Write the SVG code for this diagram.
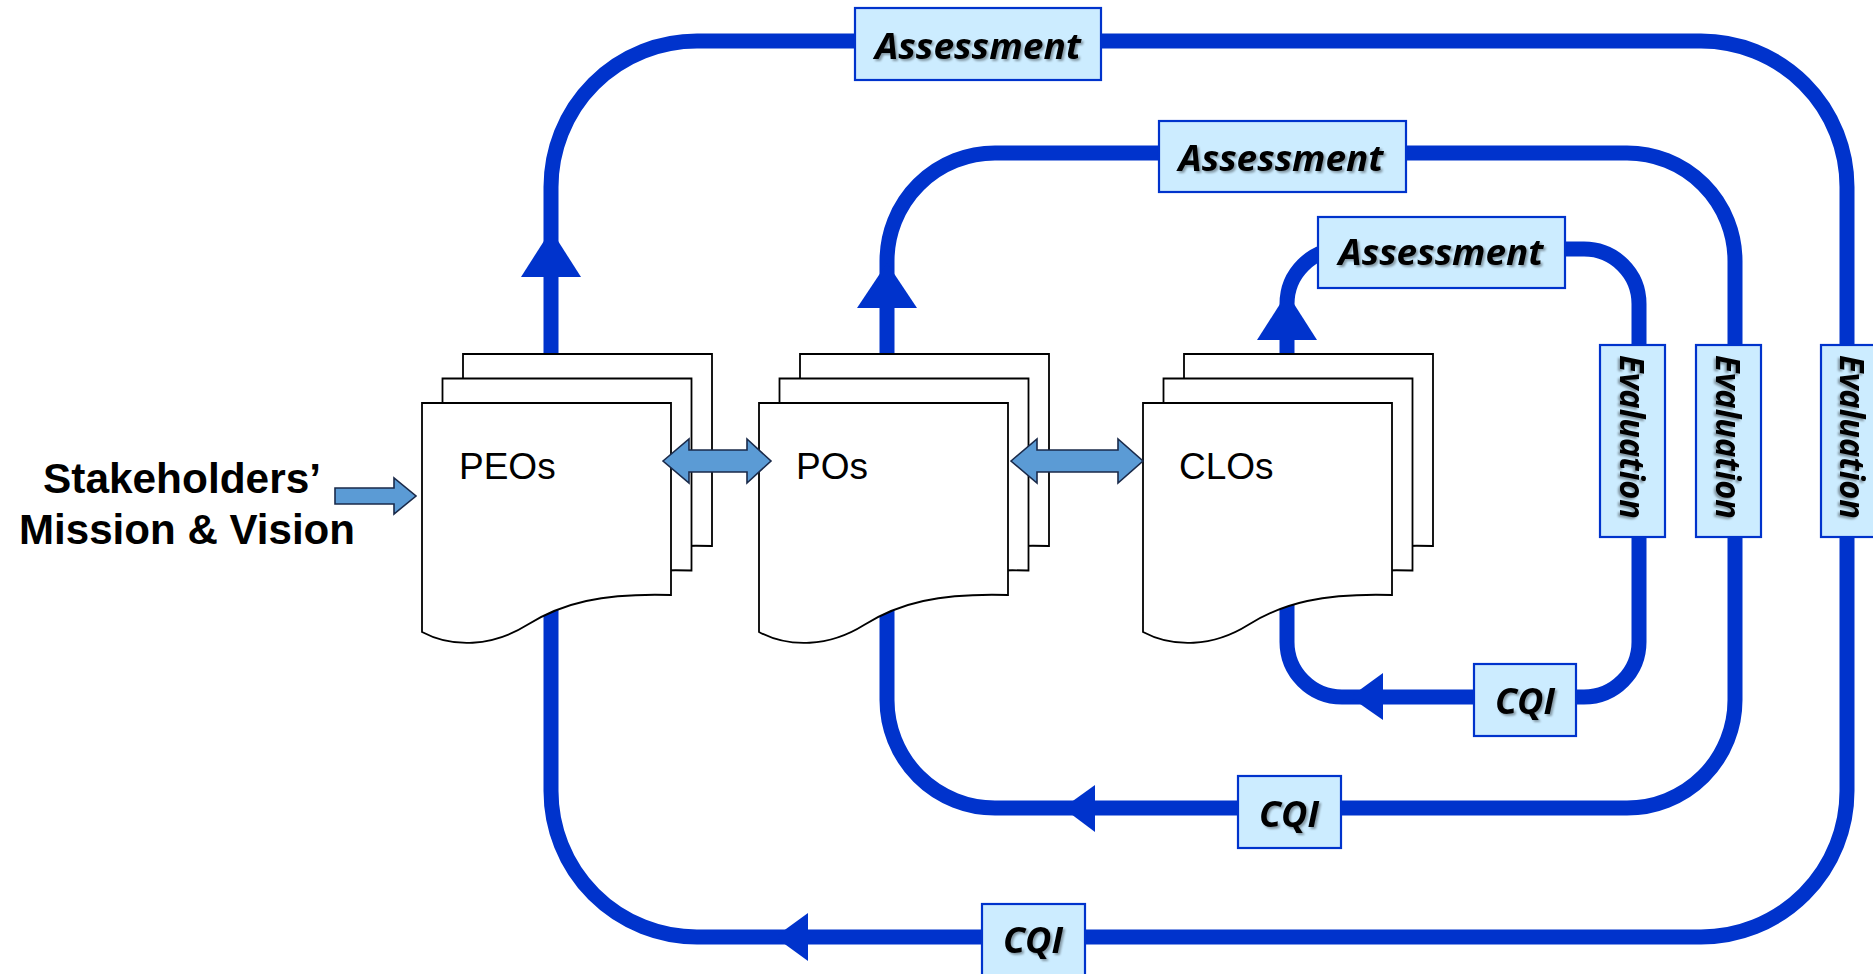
<svg xmlns="http://www.w3.org/2000/svg" width="1873" height="974" viewBox="0 0 1873 974">
<defs>
<style>
.loop{fill:none;stroke:#0033CC;stroke-width:15}
.head{fill:#0033CC;stroke:none}
.doc{fill:#FFFFFF;stroke:#000000;stroke-width:1.8;stroke-linejoin:miter}
.lbl{fill:#CCECFF;stroke:#0033CC;stroke-width:2.2}
.lt{font-family:"Open Sans","Noto Sans",sans-serif;font-weight:bold;font-style:italic;font-size:36px;fill:#000;text-anchor:middle}
.ev{font-size:34px}
.dt{font-family:"Liberation Sans",Arial,sans-serif;font-size:37px;fill:#000}
.st{font-family:"Liberation Sans",Arial,sans-serif;font-weight:bold;font-size:43px;fill:#000;text-anchor:middle}
.ba{fill:#5B9BD5;stroke:#1A2A4A;stroke-width:1.6;stroke-linejoin:miter}
</style>
<filter id="sh" x="-10%" y="-30%" width="130%" height="160%">
<feDropShadow dx="2" dy="2" stdDeviation="1.3" flood-color="#000" flood-opacity="0.35"/>
</filter>
<path id="docshape" d="M0,0 H249 V192 C180,190 140,200 105,222 S30,245 0,229 Z"/>
</defs>
<rect x="0" y="0" width="1873" height="974" fill="#FFFFFF"/>

<g id="connectors">
<rect class="loop" x="551" y="41" width="1296" height="896" rx="146" ry="146"/>
<rect class="loop" x="887" y="153" width="848" height="655" rx="108" ry="108"/>
<rect class="loop" x="1287" y="249" width="352" height="448" rx="55" ry="55"/>
<polygon class="head" points="551,230 581,277 521,277"/>
<polygon class="head" points="887,263 917,308 857,308"/>
<polygon class="head" points="1287,293 1317,340 1257,340"/>
<polygon class="head" points="775,937 808,913 808,961"/>
<polygon class="head" points="1063,808 1095,785 1095,832"/>
<polygon class="head" points="1350,697 1383,673 1383,720"/>
<polygon id="stake-arrow" class="ba" points="335,488 394,488 394,478 416,496 394,514 394,504 335,504"/>
</g>

<g id="stakeholders">
<text class="st" x="182" y="493" textLength="278" lengthAdjust="spacingAndGlyphs">Stakeholders’</text>
<text class="st" x="187" y="544" textLength="336" lengthAdjust="spacingAndGlyphs">Mission &amp; Vision</text>
</g>

<g id="peos">
<use href="#docshape" class="doc" transform="translate(463,354)"/>
<use href="#docshape" class="doc" transform="translate(442.5,378.5)"/>
<use href="#docshape" class="doc" transform="translate(422,403)"/>
<text class="dt" x="459" y="479">PEOs</text>
</g>

<g id="pos">
<use href="#docshape" class="doc" transform="translate(800,354)"/>
<use href="#docshape" class="doc" transform="translate(779.5,378.5)"/>
<use href="#docshape" class="doc" transform="translate(759,403)"/>
<text class="dt" x="796" y="479">POs</text>
</g>

<g id="clos">
<use href="#docshape" class="doc" transform="translate(1184,354)"/>
<use href="#docshape" class="doc" transform="translate(1163.5,378.5)"/>
<use href="#docshape" class="doc" transform="translate(1143,403)"/>
<text class="dt" x="1179" y="479">CLOs</text>
</g>

<g id="peo-po-arrow">
<polygon class="ba" points="663,461 689,439 689,450 747,450 747,439 771,461 747,483 747,472 689,472 689,483"/>
</g>
<g id="po-clo-arrow">
<polygon class="ba" points="1011,461 1037,439 1037,450 1118,450 1118,439 1143,461 1118,483 1118,472 1037,472 1037,483"/>
</g>

<g id="assessment-outer">
<rect class="lbl" x="855" y="8" width="246" height="72"/>
<text class="lt" x="978" y="59" textLength="206" lengthAdjust="spacingAndGlyphs" filter="url(#sh)">Assessment</text>
</g>
<g id="assessment-middle">
<rect class="lbl" x="1159" y="121" width="247" height="71"/>
<text class="lt" x="1281" y="171" textLength="205" lengthAdjust="spacingAndGlyphs" filter="url(#sh)">Assessment</text>
</g>
<g id="assessment-inner">
<rect class="lbl" x="1318" y="217" width="247" height="71"/>
<text class="lt" x="1441" y="265" textLength="205" lengthAdjust="spacingAndGlyphs" filter="url(#sh)">Assessment</text>
</g>

<g id="evaluation-inner">
<rect class="lbl" x="1600" y="345" width="65" height="192"/>
<text class="lt ev" transform="translate(1620,437) rotate(90)" textLength="164" lengthAdjust="spacingAndGlyphs" filter="url(#sh)">Evaluation</text>
</g>
<g id="evaluation-middle">
<rect class="lbl" x="1696" y="345" width="65" height="192"/>
<text class="lt ev" transform="translate(1716,437) rotate(90)" textLength="164" lengthAdjust="spacingAndGlyphs" filter="url(#sh)">Evaluation</text>
</g>
<g id="evaluation-outer">
<rect class="lbl" x="1821" y="345" width="65" height="192"/>
<text class="lt ev" transform="translate(1840,437) rotate(90)" textLength="164" lengthAdjust="spacingAndGlyphs" filter="url(#sh)">Evaluation</text>
</g>

<g id="cqi-inner">
<rect class="lbl" x="1474" y="664" width="102" height="72"/>
<text class="lt" x="1525" y="714" textLength="60" lengthAdjust="spacingAndGlyphs" filter="url(#sh)">CQI</text>
</g>
<g id="cqi-middle">
<rect class="lbl" x="1238" y="776" width="103" height="72"/>
<text class="lt" x="1289" y="827" textLength="60" lengthAdjust="spacingAndGlyphs" filter="url(#sh)">CQI</text>
</g>
<g id="cqi-outer">
<rect class="lbl" x="982" y="904" width="103" height="72"/>
<text class="lt" x="1033" y="953" textLength="60" lengthAdjust="spacingAndGlyphs" filter="url(#sh)">CQI</text>
</g>
</svg>
